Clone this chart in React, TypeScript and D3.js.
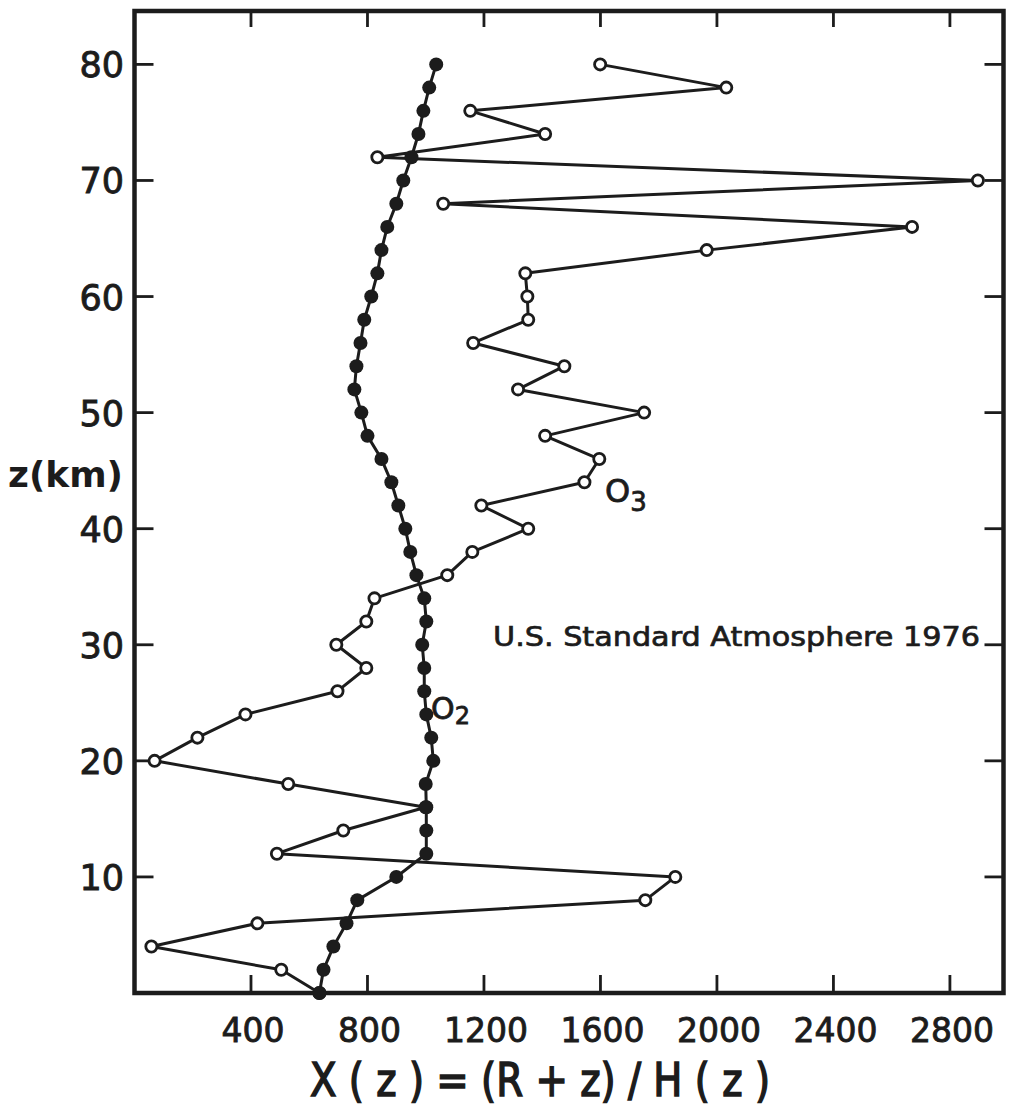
import React from "react";
import * as d3 from "d3";

const altitudes = [0, 2, 4, 6, 8, 10, 12, 14, 16, 18, 20, 22, 24, 26, 28, 30, 32, 34, 36, 38, 40, 42, 44, 46, 48, 50, 52, 54, 56, 58, 60, 62, 64, 66, 68, 70, 72, 74, 76, 78, 80];
const o2Values = [635, 649, 683, 728, 765, 899, 1002, 1002, 1002, 1000, 1026, 1019, 1002, 995, 995, 988, 1002, 995, 968, 947, 930, 906, 882, 848, 800, 779, 755, 762, 776, 789, 813, 834, 848, 868, 899, 923, 951, 975, 992, 1012, 1036];
const o3Values = [635, 504, 58, 422, 1754, 1857, 489, 717, 1000, 528, 69, 216, 381, 697, 796, 693, 796, 824, 1074, 1160, 1352, 1191, 1545, 1596, 1410, 1750, 1317, 1476, 1163, 1352, 1349, 1342, 1965, 2670, 1060, 2896, 834, 1410, 1153, 2032, 1599];
const xTicks = [400, 800, 1200, 1600, 2000, 2400, 2800];
const yTicks = [10, 20, 30, 40, 50, 60, 70, 80];

const W = 1016;
const H = 1107;
const left = 134.5, right = 1003.5, top = 11, bottom = 993;
const ink = "#1c1c1c";
const font = "'DejaVu Sans', sans-serif";

export default function App() {
  const x = d3.scaleLinear().domain([0, 2984]).range([left, right]);
  const y = d3.scaleLinear().domain([0, 84.6]).range([bottom, top]);
  const line = d3
    .line<[number, number]>()
    .x((d) => x(d[0]))
    .y((d) => y(d[1]));
  const o2 = altitudes.map((z, i) => [o2Values[i], z] as [number, number]);
  const o3 = altitudes.map((z, i) => [o3Values[i], z] as [number, number]);

  return (
    <svg
      width={W}
      height={H}
      viewBox={`0 0 ${W} ${H}`}
      style={{ position: "absolute", left: 0, top: 0, background: "#fff" }}
    >
      <rect x={0} y={0} width={W} height={H} fill="#fff" />
      {xTicks.map((t) => (
        <g key={"xt" + t}>
          <line x1={x(t)} x2={x(t)} y1={bottom} y2={bottom - 18} stroke={ink} strokeWidth={2.8} />
          <line x1={x(t)} x2={x(t)} y1={top} y2={top + 16} stroke={ink} strokeWidth={2.8} />
          <text
            x={x(t) + 2}
            y={1042}
            textAnchor="middle"
            fontFamily={font}
            fontSize={33}
            fill={ink}
            stroke={ink}
            strokeWidth={0.9}
          >
            {t}
          </text>
        </g>
      ))}
      {yTicks.map((t) => (
        <g key={"yt" + t}>
          <line x1={left} x2={left + 19} y1={y(t)} y2={y(t)} stroke={ink} strokeWidth={2.8} />
          <line x1={right} x2={right - 19} y1={y(t)} y2={y(t)} stroke={ink} strokeWidth={2.8} />
          <text
            x={124}
            y={y(t) + 13}
            textAnchor="end"
            fontFamily={font}
            fontSize={35}
            fill={ink}
            stroke={ink}
            strokeWidth={0.9}
          >
            {t}
          </text>
        </g>
      ))}
      <rect
        x={left}
        y={top}
        width={right - left}
        height={bottom - top}
        fill="none"
        stroke={ink}
        strokeWidth={4.5}
      />
      {/* O3 */}
      <path d={line(o3) || ""} fill="none" stroke={ink} strokeWidth={3} strokeLinejoin="round" />
      {o3.map((d, i) => (
        <circle key={"o3" + i} cx={x(d[0])} cy={y(d[1])} r={5.6} fill="#fff" stroke={ink} strokeWidth={2.8} />
      ))}
      {/* O2 */}
      <path d={line(o2) || ""} fill="none" stroke={ink} strokeWidth={3} />
      {o2.map((d, i) => (
        <circle key={"o2" + i} cx={x(d[0])} cy={y(d[1])} r={7} fill={ink} />
      ))}
      {/* labels */}
      <text x={605} y={502} fontFamily={font} fontSize={32} fill={ink} stroke={ink} strokeWidth={0.8}>
        O
        <tspan dy={9} fontSize={26}>3</tspan>
      </text>
      <text x={431} y={719} fontFamily={font} fontSize={30} fill={ink} stroke={ink} strokeWidth={0.8}>
        O
        <tspan dy={5} fontSize={24}>2</tspan>
      </text>
      <text
        x={493}
        y={646}
        fontFamily={font}
        fontSize={27}
        fill={ink}
        stroke={ink}
        strokeWidth={0.7}
        textLength={487}
        lengthAdjust="spacingAndGlyphs"
      >
        U.S.  Standard  Atmosphere 1976
      </text>
      <text
        x={8}
        y={487}
        fontFamily={font}
        fontSize={36}
        fontWeight="bold"
        fill={ink}
        textLength={115}
        lengthAdjust="spacingAndGlyphs"
      >
        z(km)
      </text>
      <text
        x={540}
        y={1096}
        textAnchor="middle"
        fontFamily={font}
        fontSize={46}
        fill={ink}
        stroke={ink}
        strokeWidth={1.6}
        textLength={460}
        lengthAdjust="spacingAndGlyphs"
      >
        X ( z ) = (R + z) / H ( z )
      </text>
    </svg>
  );
}
